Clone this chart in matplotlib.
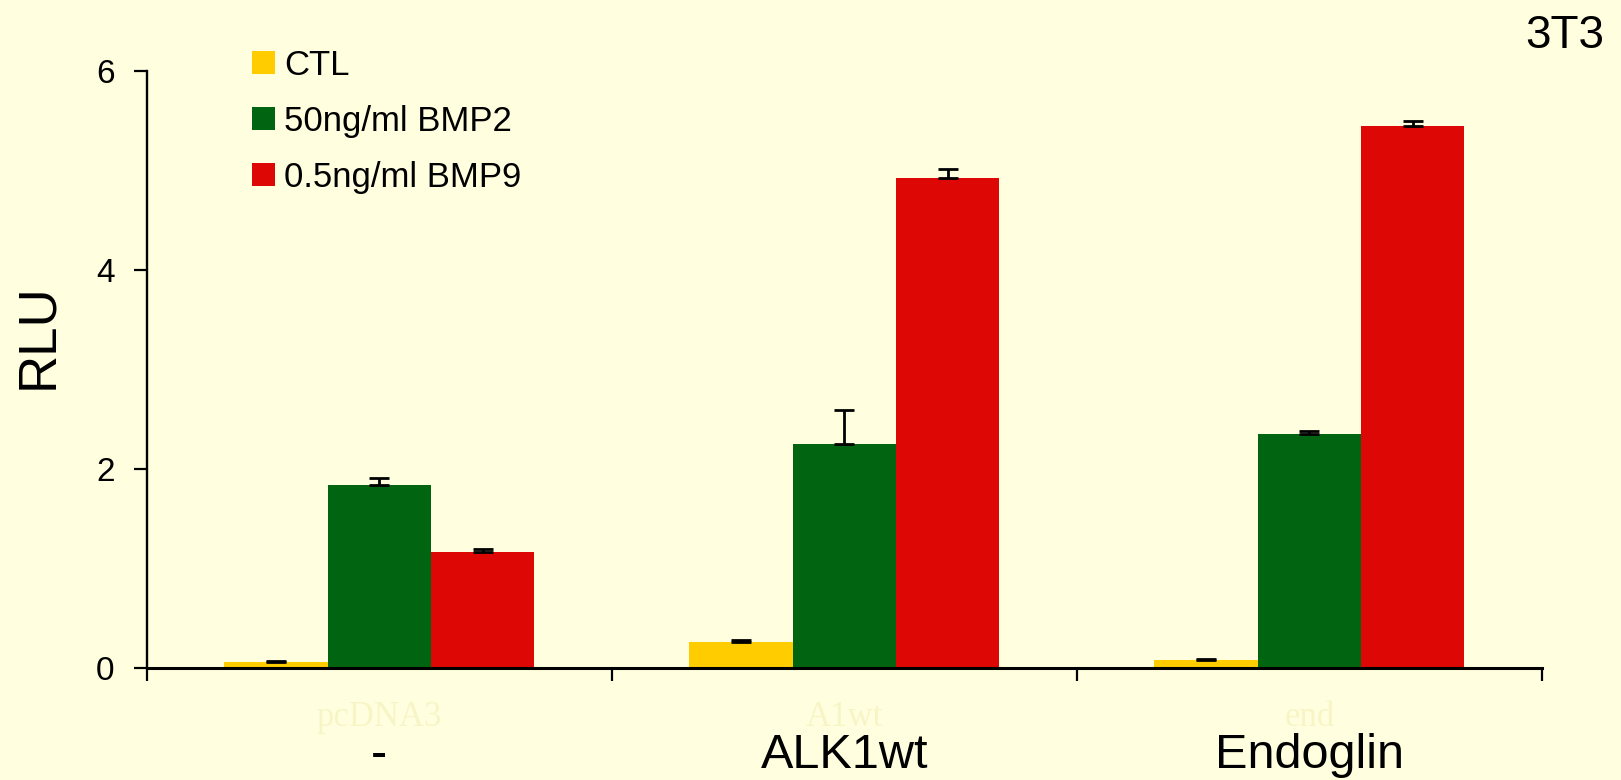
import numpy as np
import matplotlib
matplotlib.use("Agg")
import matplotlib.pyplot as plt
from matplotlib.patches import Patch

# data
groups = ["-", "ALK1wt", "Endoglin"]
hidden_labels = ["pcDNA3", "A1wt", "end"]
series = ["CTL", "50ng/ml BMP2", "0.5ng/ml BMP9"]
ctl = [0.06, 0.26, 0.08]
ctl_err = [0.005, 0.02, 0.01]
bmp2 = [1.84, 2.25, 2.35]
bmp2_err = [0.07, 0.34, 0.03]
bmp9 = [1.16, 4.93, 5.45]
bmp9_err = [0.035, 0.09, 0.05]
colors = ["#FFCC00", "#006411", "#DD0806"]

bg = "#FFFFE0"
plt.rcParams["font.family"] = ["Liberation Sans", "DejaVu Sans"]

fig = plt.figure(figsize=(16.21, 7.80), dpi=100, facecolor=bg)
ax = fig.add_axes([0.09056, 0.14385, 0.8607, 0.7648], facecolor=bg)

x = np.arange(len(groups))
w = 2 / 9
vals = [ctl, bmp2, bmp9]
errs = [ctl_err, bmp2_err, bmp9_err]
for k in range(3):
    pos = x + (k - 1) * w
    ax.bar(pos, vals[k], width=w, color=colors[k], zorder=2)
    # only the upper half of the error bar shows above the bar
    ax.errorbar(pos, vals[k], yerr=[np.zeros(3), errs[k]], fmt="none",
                ecolor="black", elinewidth=2, capsize=7, capthick=2, zorder=3)

ax.set_xlim(-0.5, 2.5)
ax.set_ylim(0, 6)
ax.set_yticks([0, 2, 4, 6])
ax.set_xticks([-0.5, 0.5, 1.5, 2.5])
ax.set_xticklabels([])
ax.tick_params(axis="y", labelsize=24, length=9.4, width=1.6, pad=13.7)
ax.tick_params(axis="x", length=9, width=1.6)
for s in ["top", "right"]:
    ax.spines[s].set_visible(False)
ax.spines["left"].set_linewidth(1.7)
ax.spines["bottom"].set_linewidth(2.2)

# category names and the faint leftover labels
tr = ax.get_xaxis_transform()
for i in range(len(groups)):
    ax.text(x[i], -0.1676, groups[i], transform=tr, ha="center", va="baseline", fontsize=35)
    ax.text(x[i], -0.097, hidden_labels[i], transform=tr, ha="center", va="baseline",
            fontsize=25, family=["Liberation Serif", "DejaVu Serif"], color="#F7F5C6")

fig.text(38 / 1621, 1 - 336.5 / 780, "RLU", rotation=90, ha="center", va="center", fontsize=38)
fig.text(1604 / 1621, 1 - 48 / 780, "3T3", ha="right", va="baseline", fontsize=33)

handles = [Patch(facecolor=c, edgecolor="none") for c in colors]
fig.legend(handles, series, loc="upper left", bbox_to_anchor=(252 / 1621, 1 - 49 / 780),
           bbox_transform=fig.transFigure, frameon=False, fontsize=25, borderpad=0,
           borderaxespad=0, handlelength=0.65, handleheight=0.65, handletextpad=0.27,
           labelspacing=0.66)

fig.savefig("out.png", dpi=100, facecolor=bg)
